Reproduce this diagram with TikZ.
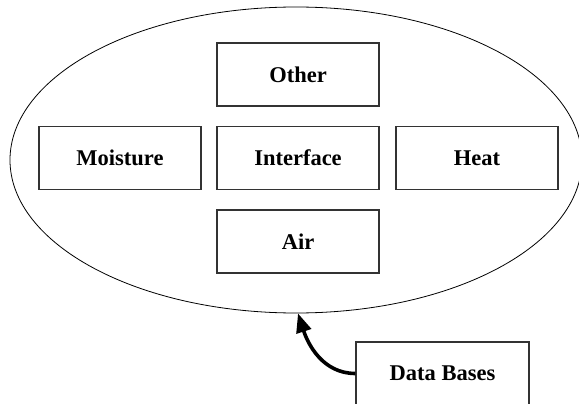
\documentclass[tikz,border=0pt]{standalone}
\usepackage{fontspec}
\setmainfont{Liberation Serif}
\usetikzlibrary{shapes.geometric,arrows.meta}

\tikzset{
  module/.style={draw=black!80, line width=1.2pt, rectangle, inner sep=0pt,
    minimum width=162pt, minimum height=63pt,
    font=\fontsize{22.5}{27}\selectfont\bfseries},
  envelope/.style={draw, line width=0.8pt, ellipse, inner sep=0pt,
    minimum width=572pt, minimum height=306pt},
  feed/.style={line width=3.6pt, -{Triangle[length=19pt,width=15pt]}}
}

\begin{document}
\begin{tikzpicture}[x=1pt,y=-1pt]
  \useasboundingbox (0,0) rectangle (579,404);

  % enclosing domain
  \node[envelope] (domain) at (296,160) {};

  % component modules
  \node[module] (other)     at (298,74.5)  {Other};
  \node[module] (moisture)  at (120,158)   {Moisture};
  \node[module] (interface) at (298,158)   {Interface};
  \node[module] (heat)      at (477,158)   {Heat};
  \node[module] (air)       at (298,241.5) {Air};

  % external data source
  \node[module, minimum width=173pt] (db) at (442.5,373.5) {Data Bases};

  \coordinate (entry) at ([xshift=2pt]domain.south);
  \draw[feed] (db.west) to[out=180,in=-72] (entry);
\end{tikzpicture}
\end{document}
